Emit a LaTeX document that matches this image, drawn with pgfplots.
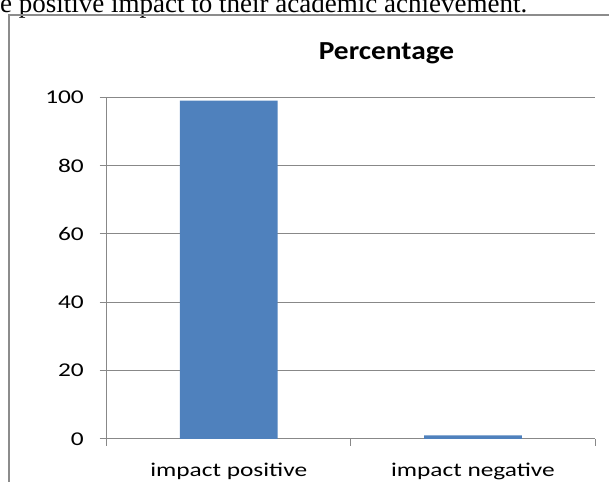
\documentclass[border=0pt]{standalone}
\usepackage{fontspec}
\usepackage{pgfplots}
\pgfplotsset{compat=1.18}
\setmainfont{Carlito}
\newfontfamily\tickfont{Carlito}[FakeStretch=1.3]
\newfontfamily\titlefont{Carlito}[FakeStretch=1.13]
\newfontfamily\bodyfont{Liberation Serif}
\definecolor{barblue}{HTML}{4F81BD}
\definecolor{gridgray}{HTML}{888888}
\definecolor{framegray}{HTML}{8C8C8C}

\begin{document}
\begin{tikzpicture}[x=1pt,y=1pt]
\useasboundingbox (0,0) rectangle (609,481);
\clip (0,0) rectangle (609,481);
% running text above the chart
\node[anchor=base west, inner sep=0pt] at (0,468)
  {\bodyfont\fontsize{27}{30}\selectfont e positive impact to their academic achievement.};
% chart area frame
\draw[framegray, line width=2pt] (9,-5) -- (9,466) -- (620,466);
% chart title
\node[anchor=base, inner sep=0pt] at (386.5,421)
  {\titlefont\bfseries\fontsize{26}{28}\selectfont Percentage};
\begin{axis}[
  at={(106.7pt,42.2pt)}, anchor=south west,
  width=488.3pt, height=341.5pt, scale only axis,
  xmin=0.5, xmax=2.5, ymin=0, ymax=100,
  axis x line*=bottom, axis y line*=left,
  axis line style={gridgray, line width=1pt},
  ytick={0,20,...,100},
  xtick={1,2}, xticklabels={impact positive, impact negative},
  minor xtick={0.5,1.5,2.5},
  tick align=outside,
  major tick length=7pt, minor tick length=7pt,
  tick style={gridgray, line width=1pt},
  major x tick style={draw=none},
  ymajorgrids, grid style={gridgray, line width=1pt},
  ybar, bar width=0.4,
  /pgf/number format/assume math mode=true,
  yticklabel style={font=\tickfont\fontsize{19.5}{20}\selectfont, anchor=east, inner sep=0pt, xshift=-15.7pt, text=black},
  xticklabel style={font=\tickfont\fontsize{19.5}{20}\selectfont, anchor=base, inner sep=0pt, yshift=-30.7pt, text=black},
]
\addplot[fill=barblue, draw=none] coordinates {(1,99) (2,1)};
\end{axis}
\end{tikzpicture}
\end{document}
